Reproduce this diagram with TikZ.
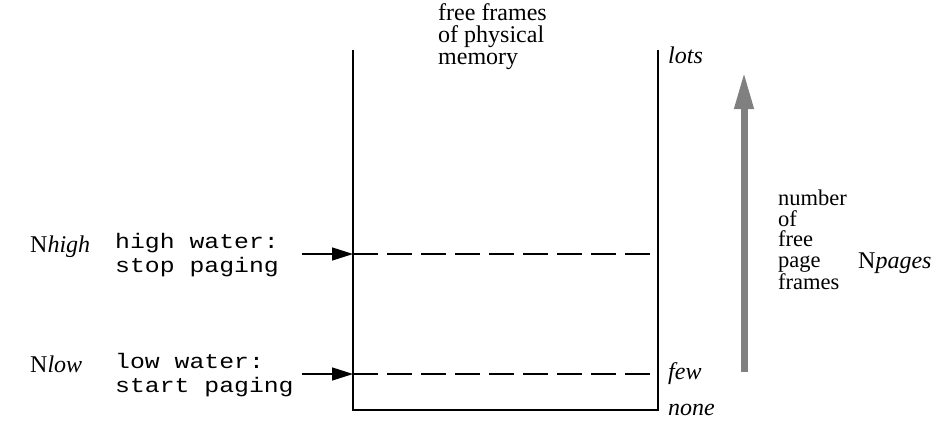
\documentclass[tikz,border=0pt]{standalone}
\usepackage{fontspec}
\setmainfont{Liberation Serif}
\setmonofont{Liberation Mono}[FakeStretch=1.18]
\usetikzlibrary{arrows.meta}
\begin{document}
\begin{tikzpicture}[x=1pt,y=-1pt,
  wall/.style={line width=1.6pt},
  level/.style={line width=1.5pt, dash pattern=on 25pt off 9pt},
  ptr/.style={line width=1.4pt, -{Triangle[length=21pt,width=13pt]}},
  serif/.style={font=\fontsize{24}{22}\selectfont, anchor=base west, inner sep=0pt, align=left},
  mono/.style={font=\ttfamily\fontsize{21}{24}\selectfont, anchor=base west, inner sep=0pt, align=left},
  ital/.style={font=\itshape\fontsize{24}{22}\selectfont, anchor=base west, inner sep=0pt},
  bigarrow/.style={line width=7pt, draw={rgb,255:red,128;green,128;blue,128}, -{Triangle[length=37pt,width=18pt]}}
]
\useasboundingbox (0,0) rectangle (950,447);
% container
\coordinate (tl) at (353,50);
\coordinate (bl) at (353,410);
\coordinate (br) at (658,410);
\coordinate (tr) at (658,50);
\draw[wall] (tl) -- (bl) -- (br) -- (tr);
% levels
\coordinate (hl) at (353,254);
\coordinate (hr) at (658,254);
\coordinate (ll) at (353,374);
\coordinate (lr) at (658,374);
\draw[level] (hl) -- (hr);
\draw[level] (ll) -- (lr);
\coordinate (ha) at (302,254);
\coordinate (la) at (302,374);
\draw[ptr] (ha) -- (hl);
\draw[ptr] (la) -- (ll);
% texts (multi-line nodes: base = last line)
\node[serif] (title) at (438,64) {free frames\\of physical\\memory};
\node[serif] (nhigh) at (30,252) {N\textit{high}};
\node[serif] (nlow) at (30,372) {N\textit{low}};
\node[mono] (hw) at (115,272) {high water:\\stop paging};
\node[mono] (lw) at (115,392) {low water:\\start paging};
\node[ital] (lots) at (668,63) {lots};
\node[ital] (few) at (668,379) {few};
\node[ital] (none) at (668,415) {none};
\node[serif, font=\fontsize{22.5}{20.5}\selectfont] (num) at (778,289) {number\\of\\free\\page\\frames};
\node[serif] (npages) at (858,268) {N\textit{pages}};
% gray arrow
\coordinate (gb) at (744,372);
\coordinate (gt) at (744,72);
\draw[bigarrow] (gb) -- (gt);
\end{tikzpicture}
\end{document}
